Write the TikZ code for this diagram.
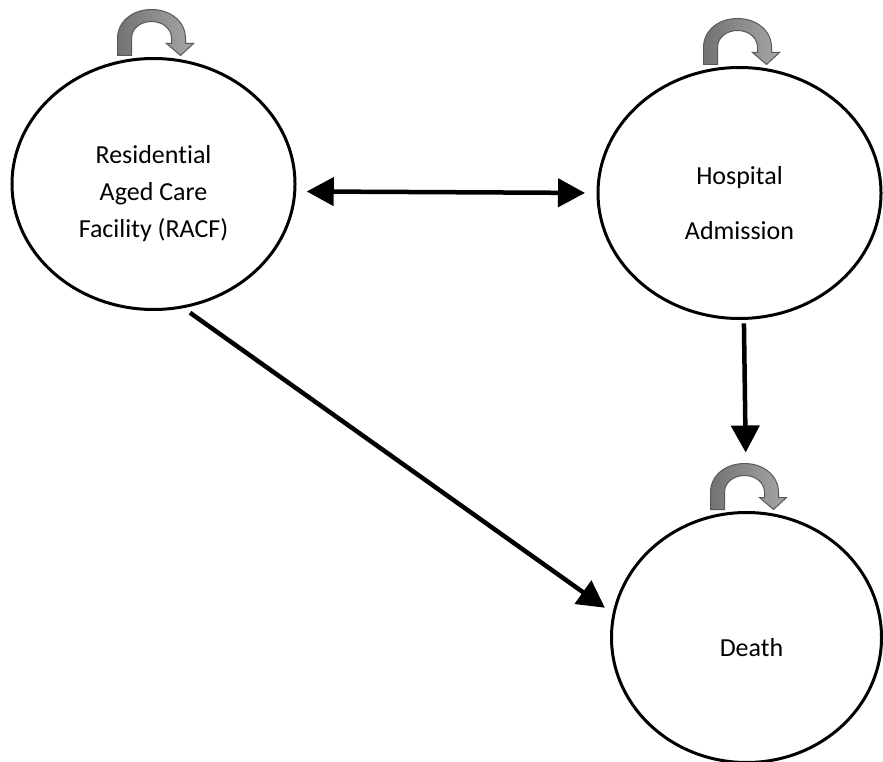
\documentclass[tikz,border=0pt]{standalone}
\usepackage{fontspec}
\setmainfont{Carlito}[Ligatures=NoCommon]
\usepackage{tikz}
\usetikzlibrary{arrows.meta,positioning,shapes.geometric}

\begin{document}
\begin{tikzpicture}[
  x=1pt, y=-1pt,
  font=\fontsize{26pt}{37pt}\selectfont,
  >={Triangle[length=27pt,width=28pt]},
  state/.style={draw, ellipse, line width=3pt, outer sep=0pt, inner sep=0pt, minimum width=283pt, minimum height=251pt},
  caption/.style={align=center, yshift=-10pt},
  loopband/.style={draw=black!65, line width=1pt, left color=black!55, right color=black!35},
  every edge/.style={draw, line width=4.5pt, ->}
]
  \useasboundingbox (0,0) rectangle (883,762);

  \node[state, label={[caption]center:Residential\\Aged Care\\Facility (RACF)}] at (153.5,184) (racf) {};
  \node[state, right=303pt of racf, yshift=-9pt, label={[caption]center:Hospital\\[18pt]Admission}] (hosp) {};
  \node[state, below=194pt of hosp, xshift=7pt, minimum width=270pt, minimum height=250pt, label={[caption, xshift=5pt]center:Death}] (death) {};

  % self loops on top of each state
  \foreach \n in {racf,hosp,death} {
    \begin{scope}[shift={(\n.north)}]
      \path[loopband] (-36,-3) -- (-36,-20)
        .. controls (-36,-37) and (-21,-49) .. (-2,-49)
        .. controls (17,-49) and (32,-37) .. (32,-20)
        -- (32,-15) -- (40,-15) -- (27,-3) -- (13,-15) -- (18,-15) -- (18,-20)
        .. controls (18,-30) and (9,-37) .. (-2,-37)
        .. controls (-13,-37) and (-22,-30) .. (-22,-20)
        -- (-22,-3) -- cycle;
    \end{scope}
  }

  \path (racf.-3) edge[<->, shorten <=12pt, shorten >=13pt] (hosp.180);
  \path (hosp.-88) edge[shorten <=5pt, shorten >=60pt] (death.north);
  \path (racf.-77) edge[shorten <=10pt, shorten >=11pt] (death.170);
\end{tikzpicture}
\end{document}
